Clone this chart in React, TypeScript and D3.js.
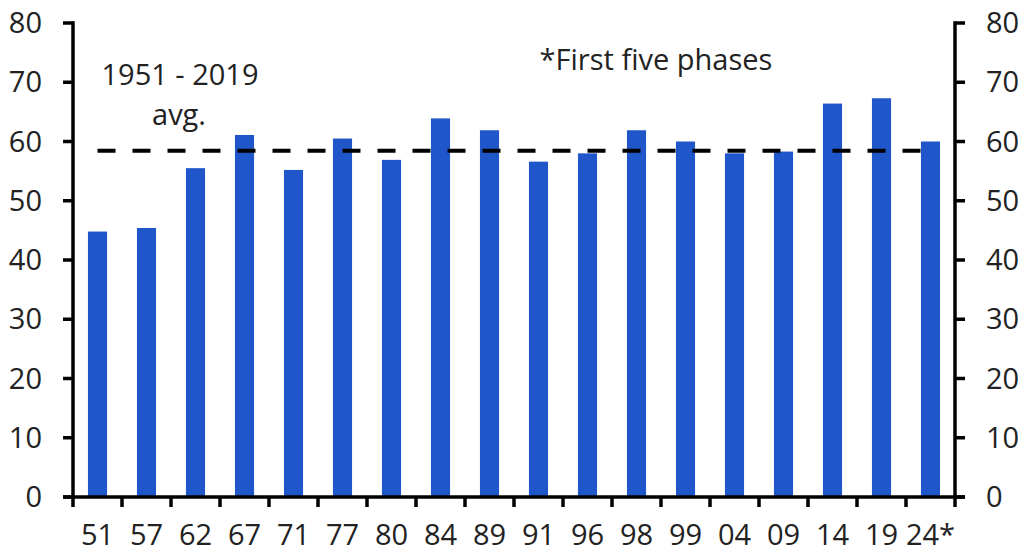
import React from "react";
import * as d3 from "d3";

const categories = ["51", "57", "62", "67", "71", "77", "80", "84", "89", "91", "96", "98", "99", "04", "09", "14", "19", "24*"];
const values = [44.8, 45.4, 55.5, 61.1, 55.2, 60.5, 56.9, 63.9, 61.9, 56.6, 58.0, 61.9, 60.0, 58.0, 58.3, 66.4, 67.3, 60.0];
const average = 58.45;
const yTicks = [0, 10, 20, 30, 40, 50, 60, 70, 80];
const avgLabel = ["1951 - 2019", "avg."];
const note = "*First five phases";

const W = 1021, H = 552;
const left = 73, right = 955, top = 23, bottom = 497;
const FONT = "'Open Sans', 'Noto Sans', sans-serif";
const FS = 29;

export default function App() {
  const x = d3.scaleBand<string>().domain(categories).range([left, right]).paddingInner(0.61).paddingOuter(0.305);
  const band = d3.scaleBand<string>().domain(categories).range([left, right]).padding(0);
  const y = d3.scaleLinear().domain([0, 80]).range([bottom, top]);
  const boundaries = categories.map((c) => band(c)!).concat([right]);
  const avgX1 = band(categories[0])! + band.bandwidth() / 2;
  const avgX2 = band(categories[categories.length - 1])! + band.bandwidth() / 2;
  const axisW = 3.5;
  return (
    <svg width={W} height={H} style={{ position: "absolute", left: 0, top: 0, background: "#fff" }} fontFamily={FONT}>
      {categories.map((c, i) => (
        <rect key={c} x={x(c)} y={y(values[i])} width={x.bandwidth()} height={y(0) - y(values[i])} fill="#1f56c9" />
      ))}
      <line x1={avgX1} x2={avgX2} y1={y(average)} y2={y(average)} stroke="#000" strokeWidth={4} strokeDasharray="18 17" />
      {/* left axis */}
      <line x1={left} x2={left} y1={top - axisW / 2} y2={bottom} stroke="#000" strokeWidth={axisW} />
      {yTicks.map((t) => (
        <g key={"l" + t}>
          <line x1={left - 10} x2={left} y1={y(t)} y2={y(t)} stroke="#000" strokeWidth={axisW} />
          <text x={42} y={y(t)} dy="0.35em" textAnchor="end" fontSize={FS} fill="#222">{t}</text>
        </g>
      ))}
      {/* right axis */}
      <line x1={right} x2={right} y1={top - axisW / 2} y2={bottom} stroke="#000" strokeWidth={axisW} />
      {yTicks.map((t) => (
        <g key={"r" + t}>
          <line x1={right} x2={right + 10} y1={y(t)} y2={y(t)} stroke="#000" strokeWidth={axisW} />
          <text x={986} y={y(t)} dy="0.35em" textAnchor="start" fontSize={FS} fill="#222">{t}</text>
        </g>
      ))}
      {/* bottom axis */}
      <line x1={left - 10} x2={right + 10} y1={bottom} y2={bottom} stroke="#000" strokeWidth={axisW} />
      {boundaries.map((b, i) => (
        <line key={"xt" + i} x1={b} x2={b} y1={bottom} y2={bottom + 10} stroke="#000" strokeWidth={axisW} />
      ))}
      {categories.map((c) => (
        <text key={"xl" + c} x={band(c)! + band.bandwidth() / 2} y={545} textAnchor="middle" fontSize={FS} fill="#222">{c}</text>
      ))}
      <text x={180} y={85} textAnchor="middle" fontSize={FS} fill="#222">{avgLabel[0]}</text>
      <text x={179} y={125} textAnchor="middle" fontSize={FS} fill="#222">{avgLabel[1]}</text>
      <text x={656} y={70} textAnchor="middle" fontSize={FS} fill="#222">{note}</text>
    </svg>
  );
}
